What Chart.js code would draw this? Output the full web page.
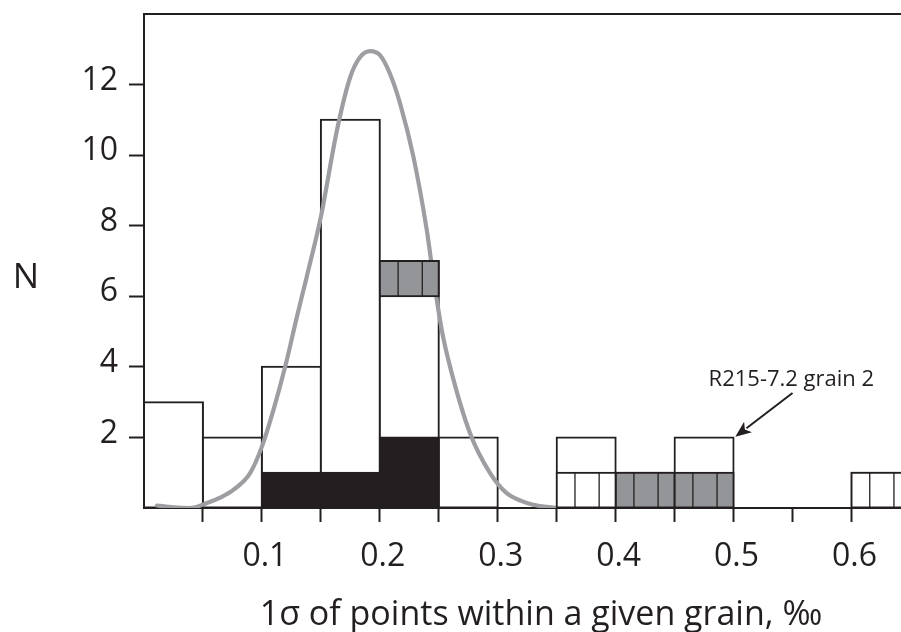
<!DOCTYPE html>
<html><head><meta charset="utf-8">
<script src="https://cdn.jsdelivr.net/npm/chart.js@4.4.1/dist/chart.umd.min.js"></script>
<style>html,body{margin:0;padding:0;background:#fff;}#wrap{width:901px;height:632px;position:relative;}</style>
</head><body><div id="wrap"><canvas id="c" width="901" height="632"></canvas></div>
<script>
// ---- data ----
const binStarts   = [0.00, 0.05, 0.10, 0.15, 0.20, 0.25, 0.30, 0.35, 0.40, 0.45, 0.50, 0.55, 0.60];
const binWidth    = 0.05;
const totalCounts = [3, 2, 4, 11, 7, 2, 0, 2, 1, 2, 0, 0, 1];
const blackCounts = [0, 0, 1, 1, 2, 0, 0, 0, 0, 0, 0, 0, 0];
const grayLow     = [null, null, null, null, 6, null, null, null, 0, 0, null, null, null];
const grayHigh    = [null, null, null, null, 7, null, null, null, 1, 1, null, null, null];
const openLow     = [null, null, null, null, null, null, null, 0, null, null, null, null, 0];
const openHigh    = [null, null, null, null, null, null, null, 1, null, null, null, null, 1];
const curveX = [0.011, 0.025, 0.039, 0.0534, 0.065, 0.076, 0.090, 0.100, 0.1098, 0.1197, 0.1297, 0.138, 0.150, 0.1636, 0.1748, 0.1833, 0.1918, 0.2003, 0.2087, 0.2172, 0.2285, 0.2398, 0.2454, 0.2525, 0.2596, 0.2765, 0.2935, 0.3076, 0.320, 0.330, 0.350];
const curveY = [0.07, 0.02, 0.0, 0.14, 0.3, 0.52, 0.99, 1.74, 2.78, 4.0, 5.42, 6.55, 8.25, 10.7, 12.2, 12.78, 12.95, 12.83, 12.3, 11.46, 9.95, 7.88, 6.55, 5.05, 4.0, 2.12, 0.99, 0.42, 0.2, 0.09, 0.0];
const yTickLabels = [2, 4, 6, 8, 10, 12];
const xTickLabels = [0.1, 0.2, 0.3, 0.4, 0.5, 0.6];
const xAxisTitle = '1\u03c3 of points within a given grain, \u2030';
const yAxisTitle = 'N';
const noteText = 'R215-7.2 grain 2';
const noteAt = {x: 0.549, y: 3.63};
const noteArrowFrom = {x: 0.55, y: 3.26};
const noteArrowTo = {x: 0.5015, y: 2.02};

// ---- build ----
const centers = binStarts.map(s => s + binWidth / 2);
const pts = (vals) => centers.map((c, i) => ({x: c, y: vals[i]})).filter(p => p.y > 0);
const ranges = (lo, hi) => centers.map((c, i) => ({x: c, y: [lo[i], hi[i]]})).filter(p => p.y[0] !== null);
const INK = '#231f20';
const FONT = '"Open Sans", sans-serif';

const barCommon = {type: 'bar', grouped: false, barPercentage: 1, categoryPercentage: 1, borderWidth: 2, borderColor: INK, borderSkipped: false, inflateAmount: 1};

const decor = {
  id: 'decor',
  afterDatasetsDraw(chart) {
    const ctx = chart.ctx, xs = chart.scales.x, ys = chart.scales.y, ca = chart.chartArea;
    ctx.save();
    ctx.beginPath(); ctx.rect(ca.left, ca.top - 2, ca.right - ca.left, ca.bottom - ca.top + 4); ctx.clip();
    chart.data.datasets.forEach((ds, i) => {
      if (!ds.hatch) return;
      const meta = chart.getDatasetMeta(i);
      meta.data.forEach(el => {
        const p = el.getProps(['x', 'y', 'base', 'width'], true);
        const left = p.x - p.width / 2;
        ctx.strokeStyle = INK; ctx.lineWidth = 1.3;
        [0.31, 0.72].forEach(f => {
          ctx.beginPath(); ctx.moveTo(left + f * p.width, p.y); ctx.lineTo(left + f * p.width, p.base); ctx.stroke();
        });
      });
    });
    ctx.restore();
    ctx.save();
    // top frame line
    ctx.strokeStyle = INK; ctx.lineWidth = 2;
    ctx.beginPath(); ctx.moveTo(ca.left - 1, ca.top); ctx.lineTo(ca.right, ca.top); ctx.stroke();
    // axis titles
    ctx.fillStyle = INK;
    ctx.font = '35px ' + FONT; ctx.textAlign = 'center'; ctx.textBaseline = 'alphabetic';
    ctx.fillText(yAxisTitle, 26, 288);
    ctx.font = '34px ' + FONT;
    ctx.fillText(xAxisTitle, 541, 625);
    // annotation
    ctx.font = '22px ' + FONT; ctx.textBaseline = 'alphabetic';
    ctx.fillText(noteText, xs.getPixelForValue(noteAt.x), ys.getPixelForValue(noteAt.y) + 6);
    const x0 = xs.getPixelForValue(noteArrowFrom.x), y0 = ys.getPixelForValue(noteArrowFrom.y);
    const x1 = xs.getPixelForValue(noteArrowTo.x), y1 = ys.getPixelForValue(noteArrowTo.y);
    const a = Math.atan2(y1 - y0, x1 - x0), L = 16, W = 6.5;
    ctx.lineWidth = 2; ctx.strokeStyle = INK;
    ctx.beginPath(); ctx.moveTo(x0, y0); ctx.lineTo(x1 - (L - 2) * Math.cos(a), y1 - (L - 2) * Math.sin(a)); ctx.stroke();
    ctx.beginPath();
    ctx.moveTo(x1, y1);
    ctx.lineTo(x1 - L * Math.cos(a) + W * Math.sin(a), y1 - L * Math.sin(a) - W * Math.cos(a));
    ctx.lineTo(x1 - L * 0.75 * Math.cos(a), y1 - L * 0.75 * Math.sin(a));
    ctx.lineTo(x1 - L * Math.cos(a) - W * Math.sin(a), y1 - L * Math.sin(a) + W * Math.cos(a));
    ctx.closePath(); ctx.fill();
    ctx.restore();
  }
};

const near = (v, arr) => arr.some(a => Math.abs(a - v) < 1e-6);

new Chart(document.getElementById('c'), {
  type: 'bar',
  data: {
    datasets: [
      Object.assign({}, barCommon, {label: 'all', data: pts(totalCounts), backgroundColor: '#ffffff', order: 4}),
      {type: 'line', label: 'fit', data: curveX.map((x, i) => ({x: x, y: curveY[i]})), borderColor: '#9d9ea1', borderWidth: 4.2, pointRadius: 0, fill: false, cubicInterpolationMode: 'monotone', order: 3, borderCapStyle: 'round'},
      Object.assign({}, barCommon, {label: 'black', data: pts(blackCounts), backgroundColor: INK, order: 2}),
      Object.assign({}, barCommon, {label: 'gray', data: ranges(grayLow, grayHigh), backgroundColor: '#939598', order: 1, hatch: true}),
      Object.assign({}, barCommon, {label: 'open', data: ranges(openLow, openHigh), backgroundColor: '#ffffff', order: 0, hatch: true})
    ]
  },
  options: {
    responsive: false, animation: false, devicePixelRatio: 1,
    layout: {padding: {top: 14, right: 0, left: 0, bottom: 0}},
    plugins: {legend: {display: false}, tooltip: {enabled: false}},
    scales: {
      x: {
        type: 'linear', min: 0, max: 0.642, offset: false,
        afterBuildTicks: s => { s.ticks = binStarts.map(v => ({value: v})); },
        afterFit: s => { s.height = 124; s.paddingLeft = 0; s.paddingRight = 0; },
        ticks: {autoSkip: false, maxRotation: 0, color: INK, font: {family: FONT, size: 32}, padding: 16, labelOffset: 3,
          callback: v => near(v, xTickLabels) ? v.toFixed(1) : ''},
        grid: {offset: false, drawOnChartArea: false, tickLength: 14, tickWidth: 2, tickColor: c => (c.tick && c.tick.value > 1e-6) ? INK : 'rgba(0,0,0,0)'},
        border: {display: true, color: INK, width: 2}
      },
      y: {
        min: 0, max: 14,
        afterFit: s => { s.width = 144; s.paddingTop = 0; s.paddingBottom = 0; },
        ticks: {stepSize: 2, color: INK, font: {family: FONT, size: 32}, padding: 11, labelOffset: -4,
          callback: v => near(v, yTickLabels) ? String(v) : ''},
        grid: {drawOnChartArea: false, tickLength: 15, tickWidth: 2, tickColor: c => (c.tick && near(c.tick.value, yTickLabels)) ? INK : 'rgba(0,0,0,0)'},
        border: {display: true, color: INK, width: 2}
      }
    }
  },
  plugins: [decor]
});
</script></body></html>
